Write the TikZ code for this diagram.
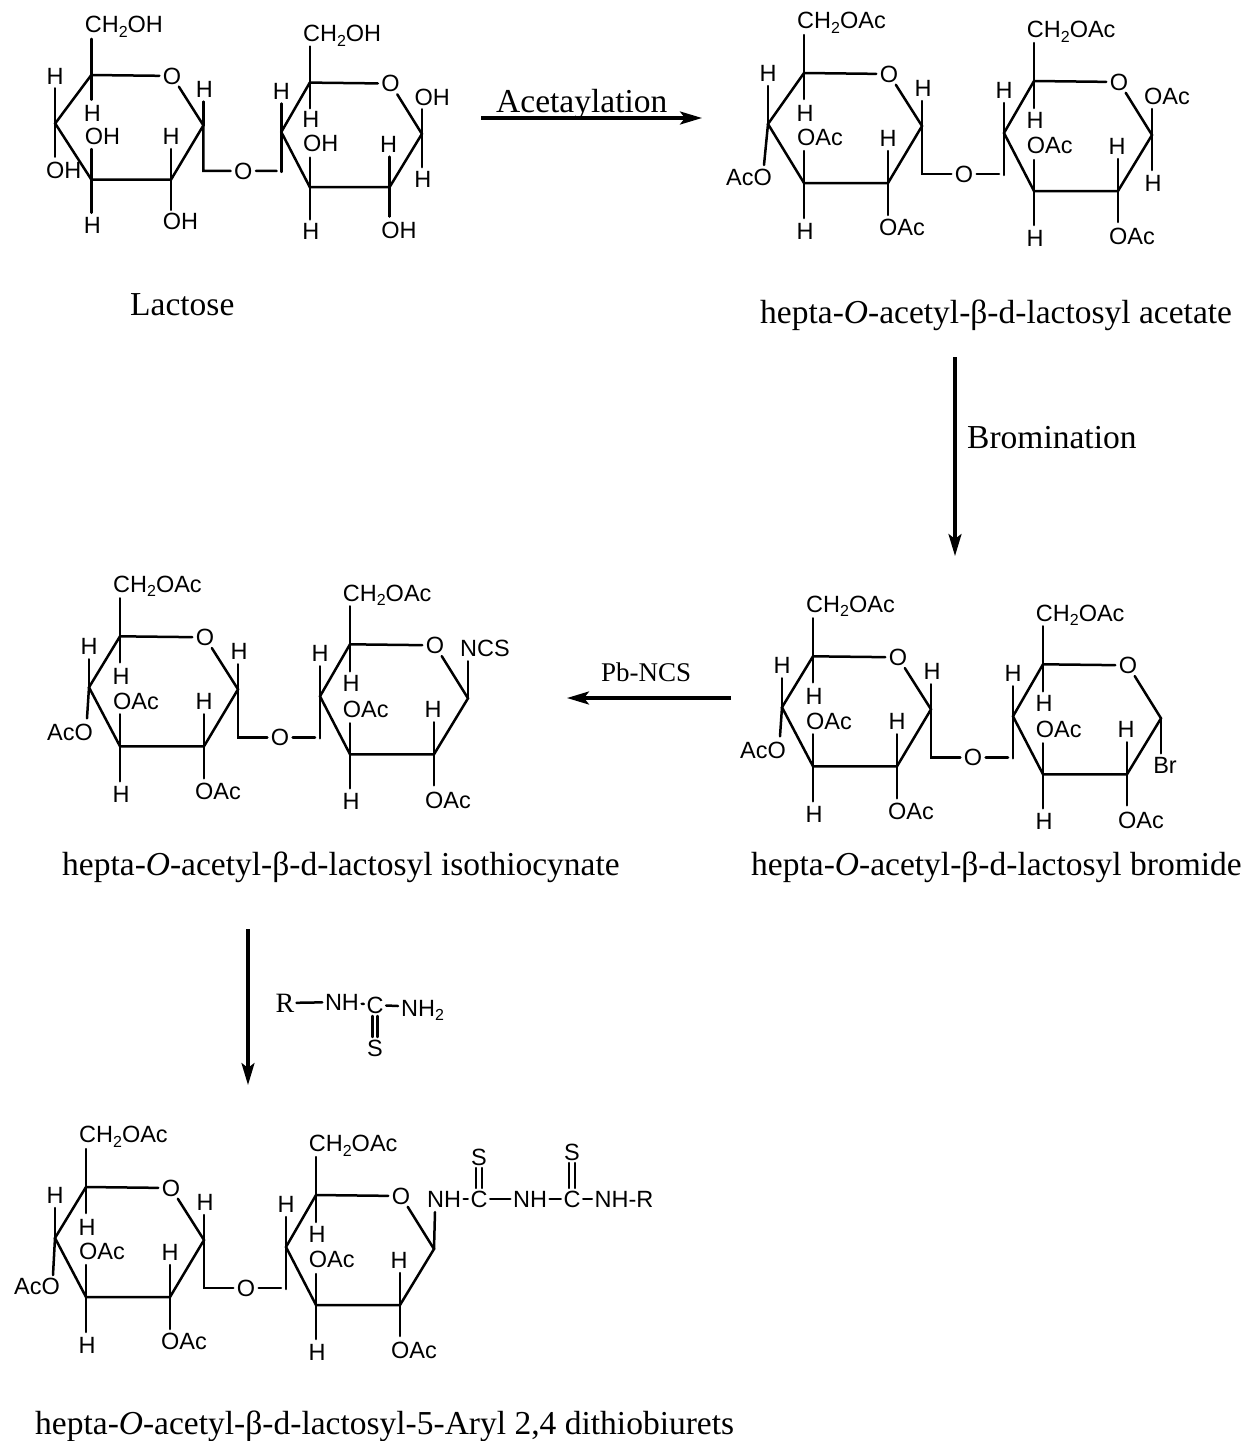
\documentclass[tikz,border=0pt]{standalone}
\usepackage{fontspec}
\setmainfont{Liberation Sans}
\newfontfamily\serifface{Liberation Serif}
\usetikzlibrary{arrows.meta}
\tikzset{
  bond/.style={line width=2.5pt,line cap=round,line join=miter},
  lab/.style={font=\fontsize{23.5}{27}\selectfont,inner sep=0pt,anchor=base west,yshift=-0.7pt},
  hat/.style={font=\fontsize{23.5}{27}\selectfont,inner sep=0pt},
  ringO/.style={font=\fontsize{23.5}{27}\selectfont,circle,inner sep=0pt,minimum size=25pt},
  tight/.style={font=\fontsize{23.5}{27}\selectfont,inner sep=2.5pt},
  capt/.style={font=\serifface\fontsize{33.5}{38}\selectfont,inner sep=0pt,anchor=base west},
  rxn/.style={line width=3.3pt,-{Stealth[length=22pt,width=13pt,inset=5pt]}},
}
\newcommand{\subtwo}{\raisebox{-4.5pt}{\fontsize{16}{16}\selectfont 2}}
\newcommand{\betaletter}{β}
% #1 C4 x, #2 C4-up bond end y, #3 substituent text
\newcommand{\sugar}[3]{%
  \coordinate (a5) at (0,0);
  \coordinate (a1) at (118,53);
  \coordinate (a2) at (84,110);
  \coordinate (a3) at (0,110);
  \coordinate (a4) at (#1,51);
  \node[ringO] (oa) at (85,1) {O};
  \node[ringO] (ob) at (160,101) {O};
  \coordinate (b5) at (230,8);
  \coordinate (b1) at (348,62);
  \coordinate (b2) at (314,118);
  \coordinate (b3) at (230,118);
  \coordinate (b4) at (200,60);
  \node[ringO] (oc) at (315,9) {O};
  \draw[bond] (a5) -- (oa);
  \draw[bond] (oa) -- (a1) -- (a2) -- (a3) -- (a4) -- (a5);
  \draw[bond] (b5) -- (oc);
  \draw[bond] (oc) -- (b1) -- (b2) -- (b3) -- (b4) -- (b5);
  \coordinate (lnk) at (118,101);
  \coordinate (lnk2) at (195,101);
  \coordinate (bv) at (200,102);
  \draw[bond] (a1) -- (lnk) -- (ob);
  \draw[bond] (ob) -- (lnk2);
  \draw[bond] (b4) -- (bv);
  % ring 1 substituents
  \coordinate (e1) at (0,-38);   \draw[bond] (a5) -- (e1);
  \node[lab] (t1) at (-7,-45) {CH\subtwo O#3};
  \coordinate (e2) at (0,26);    \draw[bond] (a5) -- (e2);
  \node[hat] (h1) at (1,40) {H};
  \coordinate (e3) at (#1,#2);   \draw[bond] (a4) -- (e3);
  \node[hat] (h2) at (#1,#2-13) {H};
  \coordinate (e4) at (0,78);    \draw[bond] (a3) -- (e4);
  \node[lab] (l3) at (-7,72) {O#3};
  \coordinate (e5) at (0,145);   \draw[bond] (a3) -- (e5);
  \node[hat] (h3) at (1,158) {H};
  \coordinate (e6) at (84,78);   \draw[bond] (a2) -- (e6);
  \node[hat] (h4) at (84,65) {H};
  \coordinate (e7) at (84,142);  \draw[bond] (a2) -- (e7);
  \node[lab] (l4) at (75,162) {O#3};
  \coordinate (e8) at (118,28);  \draw[bond] (a1) -- (e8);
  \node[hat] (h5) at (119,15) {H};
  % ring 2 substituents
  \coordinate (f1) at (230,-30); \draw[bond] (b5) -- (f1);
  \node[lab] (t2) at (222.7,-36) {CH\subtwo O#3};
  \coordinate (f2) at (230,35);  \draw[bond] (b5) -- (f2);
  \node[hat] (h6) at (231,47) {H};
  \coordinate (f3) at (200,30);  \draw[bond] (b4) -- (f3);
  \node[hat] (h7) at (200,17) {H};
  \coordinate (f4) at (230,87);  \draw[bond] (b3) -- (f4);
  \node[lab] (l5) at (222.7,80) {O#3};
  \coordinate (f5) at (230,152); \draw[bond] (b3) -- (f5);
  \node[hat] (h8) at (231,165) {H};
  \coordinate (f6) at (314,86);  \draw[bond] (b2) -- (f6);
  \node[hat] (h9) at (313,73) {H};
  \coordinate (f7) at (314,149); \draw[bond] (b2) -- (f7);
  \node[lab] (l6) at (305,171) {O#3};
}
\begin{document}
\begin{tikzpicture}[x=1pt,y=-1pt]
\useasboundingbox (0,0) rectangle (1248,1441);

% Lactose
\begin{scope}[shift={(91.3,75)},scale=.95,name prefix=s1-]
  \sugar{-38}{14}{H}
  \coordinate (g1) at (-38,86);  \draw[bond] (a4) -- (g1);
  \node[lab] (g2) at (-47.7,108) {OH};
  \coordinate (u1) at (348,36);  \draw[bond] (b1) -- (u1);
  \node[lab] (u2) at (340,31) {OH};
  \coordinate (d1) at (348,97);  \draw[bond] (b1) -- (d1);
  \node[hat] (d2) at (349,110) {H};
\end{scope}

% Acetate
\begin{scope}[shift={(804,73)},name prefix=s2-]
  \sugar{-36}{13}{Ac}
  \coordinate (g1) at (-40,92);  \draw[bond] (a4) -- (g1);
  \node[lab,anchor=base east] (g2) at (-32,112) {AcO};
  \coordinate (u1) at (348,36);  \draw[bond] (b1) -- (u1);
  \node[lab] (u2) at (340,31) {OAc};
  \coordinate (d1) at (348,97);  \draw[bond] (b1) -- (d1);
  \node[hat] (d2) at (349,110) {H};
\end{scope}

% Bromide
\begin{scope}[shift={(813,656.3)},name prefix=s3-]
  \sugar{-31}{22}{Ac}
  \coordinate (g1) at (-33,80);  \draw[bond] (a4) -- (g1);
  \node[lab,anchor=base east] (g2) at (-27,101) {AcO};
  \coordinate (d1) at (348,97);  \draw[bond] (b1) -- (d1);
  \node[hat] (d2) at (352,109) {Br};
\end{scope}

% Isothiocyanate
\begin{scope}[shift={(120,636.3)},name prefix=s4-]
  \sugar{-31}{23}{Ac}
  \coordinate (g1) at (-33,82);  \draw[bond] (a4) -- (g1);
  \node[lab,anchor=base east] (g2) at (-27,103) {AcO};
  \coordinate (u1) at (348,25);  \draw[bond] (b1) -- (u1);
  \node[hat] (u2) at (365,12) {NCS};
\end{scope}

% Dithiobiuret
\begin{scope}[shift={(86,1187)},name prefix=s5-]
  \sugar{-31}{21}{Ac}
  \coordinate (g1) at (-33,88);  \draw[bond] (a4) -- (g1);
  \node[lab,anchor=base east] (g2) at (-26,107) {AcO};
  \coordinate (u1) at (349,25);  \draw[bond] (b1) -- (u1);
\end{scope}
\node[tight] (n1) at (444,1199) {NH};
\node[tight] (c1) at (479,1199) {C};
\node[tight] (n2) at (530,1199) {NH};
\node[tight] (c2) at (572,1199) {C};
\node[tight] (n3) at (624,1199) {NH-R};
\node[tight] (s1) at (479,1157) {S};
\node[tight] (s2) at (572,1152) {S};
\draw[bond] (n1) -- (c1);
\draw[bond] (c1) -- (n2);
\draw[bond] (n2) -- (c2);
\draw[bond] (c2) -- (n3);
\draw[bond] ([xshift=-3.2pt]c1.north) -- ([xshift=-3.2pt]s1.south);
\draw[bond] ([xshift=3.2pt]c1.north) -- ([xshift=3.2pt]s1.south);
\draw[bond] ([xshift=-3.2pt]c2.north) -- ([xshift=-3.2pt]s2.south);
\draw[bond] ([xshift=3.2pt]c2.north) -- ([xshift=3.2pt]s2.south);

% Reagent
\node[font=\serifface\fontsize{28}{30}\selectfont,inner sep=2pt] (rr) at (285,1003) {R};
\node[tight] (rn) at (342,1002) {NH};
\node[tight] (rc) at (375,1005) {C};
\node[tight] (rs) at (375,1048) {S};
\node[lab] (rq) at (401,1015.7) {NH\subtwo};
\coordinate (rb) at (398,1006);
\draw[bond] (rr) -- (rn);
\draw[bond] (rn) -- (rc);
\draw[bond] (rc) -- (rb);
\draw[bond] ([xshift=-2.6pt]rc.south) -- ([xshift=-2.6pt]rs.north);
\draw[bond] ([xshift=2.6pt]rc.south) -- ([xshift=2.6pt]rs.north);

% Reaction arrows
\coordinate (ar1) at (481,118); \coordinate (ar2) at (702,118);
\draw[rxn] (ar1) -- (ar2);
\coordinate (ar3) at (955,357); \coordinate (ar4) at (955,556);
\draw[rxn] (ar3) -- (ar4);
\coordinate (ar5) at (731,698); \coordinate (ar6) at (567,698);
\draw[rxn] (ar5) -- (ar6);
\coordinate (ar7) at (248,929); \coordinate (ar8) at (248,1085);
\draw[rxn] (ar7) -- (ar8);

% Captions and reaction labels
\node[capt] (k1) at (496,112) {Acetaylation};
\node[capt] (k2) at (967,448.5) {Bromination};
\node[capt,font=\serifface\fontsize{27}{30}\selectfont] (k3) at (601,681) {Pb-NCS};
\node[capt] (k4) at (130,315) {Lactose};
\node[capt] (k5) at (760,323.5) {hepta-\textit{O}-acetyl-\betaletter-d-lactosyl acetate};
\node[capt] (k6) at (751,875.5) {hepta-\textit{O}-acetyl-\betaletter-d-lactosyl bromide};
\node[capt] (k7) at (62,875.5) {hepta-\textit{O}-acetyl-\betaletter-d-lactosyl isothiocynate};
\node[capt] (k8) at (35,1434) {hepta-\textit{O}-acetyl-\betaletter-d-lactosyl-5-Aryl 2,4 dithiobiurets};
\end{tikzpicture}
\end{document}
